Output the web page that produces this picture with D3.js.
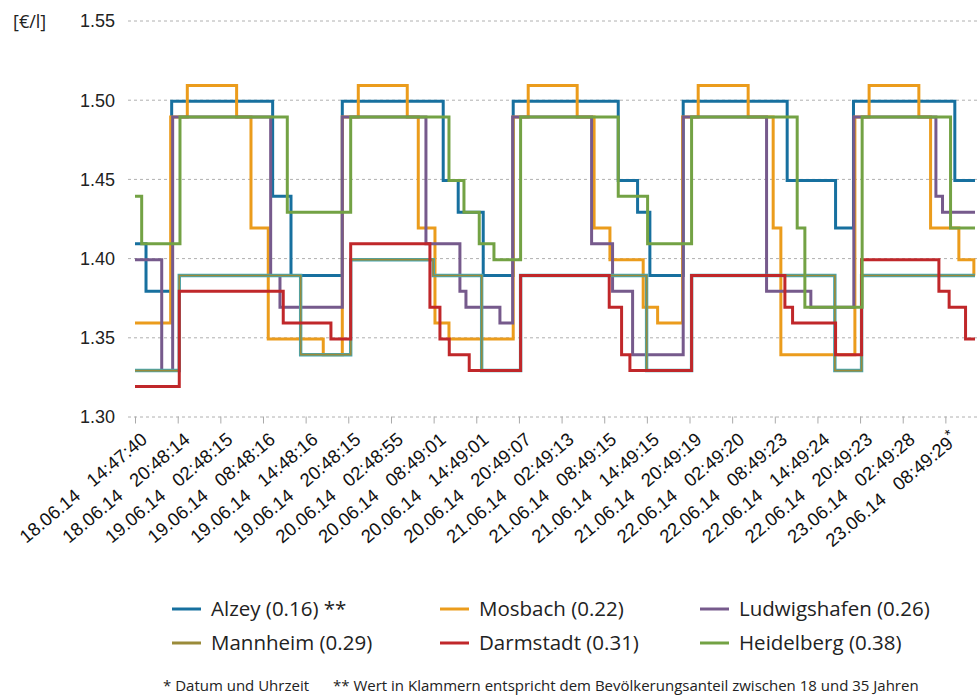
<!DOCTYPE html>
<html>
<head>
<meta charset="utf-8">
<style>
    body { margin: 0; background: #fff; }
    svg { font-family: 'Open Sans', 'Noto Sans', sans-serif; }
    .y .tick line { stroke: #b0b0b0; stroke-dasharray: 3,3; }
    .y .domain, .x .domain { display: none; }
    .x .tick line { stroke: #aaa; }
    .y text { font-size: 18px; fill: #222; }
    .x text { font-size: 18.5px; fill: #111; }
    .legend text { font-size: 20.5px; fill: #222; }
    .note { font-size: 15px; fill: #222; }
</style>
</head>
<body>
<svg width="977" height="700"></svg>
<script src="https://cdn.jsdelivr.net/npm/d3@7"></script>
<script>

// x tick labels (date and time of each sample)
let tickLabels = [
    "18.06.14 14:47:40", "18.06.14 20:48:14", "19.06.14 02:48:15", "19.06.14 08:48:16",
    "19.06.14 14:48:16", "19.06.14 20:48:15", "20.06.14 02:48:55", "20.06.14 08:49:01",
    "20.06.14 14:49:01", "20.06.14 20:49:07", "21.06.14 02:49:13", "21.06.14 08:49:15",
    "21.06.14 14:49:15", "21.06.14 20:49:19", "22.06.14 02:49:20", "22.06.14 08:49:23",
    "22.06.14 14:49:24", "22.06.14 20:49:23", "23.06.14 02:49:28", "23.06.14 08:49:29"
]
let yTicks = [1.30, 1.35, 1.40, 1.45, 1.50, 1.55]

// price changes: [hours after first sample, price]
let alzey = [[0,1.409],[1.55,1.379],[5.16,1.499],[19.37,1.439],[21.95,1.389],[29.17,1.499],
    [43.37,1.449],[45.48,1.429],[49.0,1.389],[53.22,1.499],[68.0,1.449],[70.72,1.429],
    [72.45,1.389],[77.14,1.499],[91.77,1.449],[98.58,1.419],[101.1,1.499],[115.36,1.449]]
let mosbach = [[0,1.359],[5.02,1.489],[7.36,1.509],[14.3,1.489],[16.32,1.419],[18.75,1.349],
    [26.49,1.339],[29.17,1.489],[31.42,1.509],[38.31,1.489],[39.86,1.419],[42.21,1.359],
    [44.18,1.349],[53.22,1.489],[55.33,1.509],[62.22,1.489],[64.6,1.419],[66.83,1.399],
    [71.51,1.369],[73.54,1.359],[77.05,1.489],[79.25,1.509],[86.28,1.489],[89.8,1.419],
    [90.88,1.339],[101.3,1.489],[103.3,1.509],[110.3,1.489],[111.95,1.419],[115.93,1.399],
    [118.04,1.389]]
let ludwigshafen = [[0,1.399],[3.76,1.329],[5.3,1.489],[19.09,1.389],[20.4,1.369],[29.17,1.489],
    [40.94,1.409],[45.72,1.379],[46.57,1.369],[51.35,1.359],[53.14,1.489],[64.25,1.409],
    [67.2,1.379],[70.02,1.339],[77.14,1.489],[88.87,1.379],[95.1,1.369],[101.15,1.489],
    [112.7,1.439],[113.63,1.429]]
let mannheim = [[0,1.329],[6.23,1.389],[23.31,1.339],[30.35,1.399],[41.97,1.389],[48.78,1.329],
    [54.26,1.389],[71.99,1.329],[78.32,1.389],[98.48,1.329],[102.24,1.389]]
let darmstadt = [[0,1.319],[6.23,1.379],[20.86,1.359],[27.57,1.349],[30.35,1.409],[41.5,1.369],
    [42.91,1.349],[44.22,1.339],[47.03,1.329],[54.26,1.389],[66.73,1.369],[68.47,1.339],
    [69.64,1.329],[78.32,1.389],[91.45,1.369],[92.53,1.359],[98.58,1.339],[102.24,1.399],
    [113.12,1.379],[114.56,1.369],[116.87,1.349]]
let heidelberg = [[0,1.439],[0.94,1.409],[6.33,1.489],[21.43,1.429],[30.35,1.489],[44.18,1.449],
    [46.29,1.429],[48.44,1.409],[50.51,1.399],[54.26,1.489],[68.0,1.439],[72.13,1.409],
    [78.32,1.489],[93.18,1.419],[94.26,1.369],[102.32,1.489],[114.76,1.419]]
let endHour = 118.2

let seriesNames = ["Alzey (0.16) **", "Mosbach (0.22)", "Ludwigshafen (0.26)",
    "Mannheim (0.29)", "Darmstadt (0.31)", "Heidelberg (0.38)"]
let seriesData = [alzey, mosbach, ludwigshafen, mannheim, darmstadt, heidelberg]
let seriesColors = ["#17709f", "#eb9c1c", "#765a8c", "#9a8b3a", "#c0272a", "#73a244"]

let width = 977
let height = 700
let svg = d3.select("svg")

let parse = d3.timeParse("%d.%m.%y %H:%M:%S")
let t0 = parse(tickLabels[0])
let hourToDate = h => new Date(t0.getTime() + h * 3600e3)

let x = d3.scaleTime()
    .domain([t0, hourToDate(endHour)])
    .range([135, 975])

let y = d3.scaleLinear()
    .domain([1.30, 1.55])
    .range([416.5, 20.5])

// y grid + labels
svg.append("g")
    .attr("class", "y axis")
    .attr("transform", "translate(128,0)")
    .call(d3.axisLeft(y).tickValues(yTicks).tickSize(-(width - 128)).tickPadding(13).tickFormat(d3.format(".2f")))
    .selectAll("text").attr("dy", "0.35em")

svg.append("text")
    .attr("x", 13)
    .attr("y", 28)
    .style("font-size", "18px")
    .style("fill", "#222")
    .text("[€/l]")

// x ticks
let tickDates = tickLabels.map(parse)
let xAxis = svg.append("g")
    .attr("class", "x axis")
    .attr("transform", "translate(0,416.5)")
    .call(d3.axisBottom(x).tickValues(tickDates).tickSize(7).tickFormat(""))

xAxis.selectAll(".tick").each(function (d, i) {
    let parts = tickLabels[i].split(" ")
    let t = d3.select(this).append("text")
        .attr("text-anchor", "end")
        .attr("transform", "translate(13,25) rotate(-40)")
        .attr("x", 0).attr("y", 0)
        .style("fill", "#111")
    t.append("tspan").text(parts[0] + "\u00a0\u00a0\u00a0" + parts[1])
    if (i == tickLabels.length - 1) {
        t.append("tspan").attr("dy", "-0.45em").style("font-size", "15px").text("*")
    }
})

// step lines
let line = d3.line()
    .x(d => x(hourToDate(d[0])))
    .y(d => y(d[1]))
    .curve(d3.curveStepAfter)

seriesData.forEach((data, i) => {
    let pts = data.concat([[endHour, data[data.length - 1][1]]])
    if (i == 3) {
        svg.append("path")
            .attr("d", line(pts))
            .attr("fill", "none")
            .attr("stroke", "#45a6b2")
            .attr("stroke-width", 3.4)
    }
    svg.append("path")
        .attr("d", line(pts))
        .attr("fill", "none")
        .attr("stroke", seriesColors[i])
        .attr("stroke-width", i == 3 ? 1.7 : 3)
})

// legend
let legend = svg.append("g").attr("class", "legend")
let colX = [172, 440, 700]
let rowY = [609, 643]
seriesNames.forEach((name, i) => {
    let lx = colX[i % 3]
    let ly = rowY[Math.floor(i / 3)]
    legend.append("line")
        .attr("x1", lx).attr("x2", lx + 29)
        .attr("y1", ly).attr("y2", ly)
        .attr("stroke", seriesColors[i])
        .attr("stroke-width", 3)
    legend.append("text")
        .attr("x", lx + 39)
        .attr("y", ly)
        .attr("dy", "0.35em")
        .text(name)
})

svg.append("text").attr("class", "note").attr("x", 163).attr("y", 691)
    .text("* Datum und Uhrzeit")
svg.append("text").attr("class", "note").attr("x", 333).attr("y", 691)
    .text("** Wert in Klammern entspricht dem Bevölkerungsanteil zwischen 18 und 35 Jahren")

</script>
</body>
</html>
